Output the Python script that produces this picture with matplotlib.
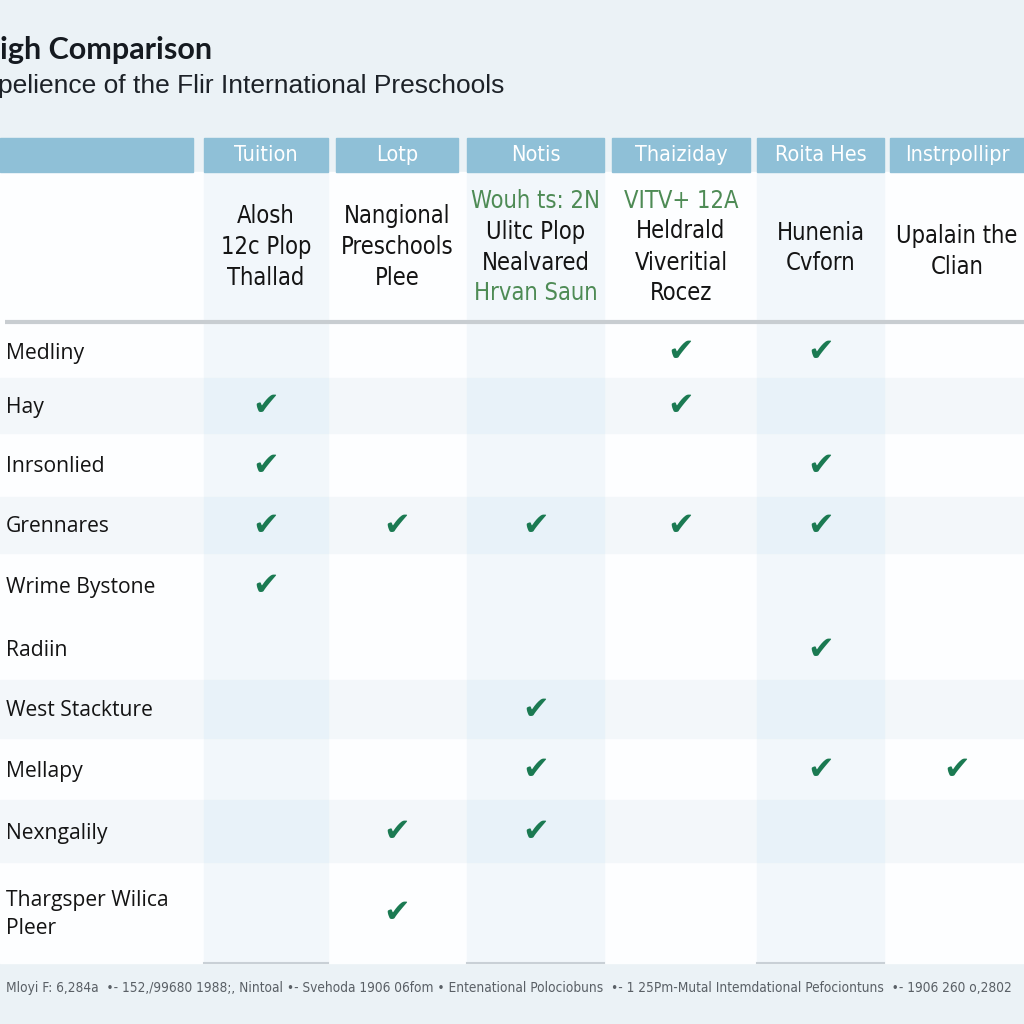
import matplotlib
matplotlib.use("Agg")
import matplotlib.pyplot as plt
from matplotlib.patches import Rectangle
from matplotlib import font_manager as fm

# ---------------- data ----------------
title = "igh Comparison"
subtitle = "pelience of the Flir International Preschools"
columns = ["Tuition", "Lotp", "Notis", "Thaiziday", "Roita Hes", "Instrpollipr"]
subheaders = [
    ["Alosh", "12c Plop", "Thallad"],
    ["Nangional", "Preschools", "Plee"],
    ["Wouh ts: 2N", "Ulitc Plop", "Nealvared", "Hrvan Saun"],
    ["VITV+ 12A", "Heldrald", "Viveritial", "Rocez"],
    ["Hunenia", "Cvforn"],
    ["Upalain the", "Clian"],
]
subheader_green = [
    [False, False, False],
    [False, False, False],
    [True, False, False, True],
    [True, False, False, False],
    [False, False],
    [False, False],
]
rows = ["Medliny", "Hay", "Inrsonlied", "Grennares", "Wrime Bystone",
        "Radiin", "West Stackture", "Mellapy", "Nexngalily",
        "Thargsper Wilica\nPleer"]
checks = [
    [0, 0, 0, 1, 1, 0],
    [1, 0, 0, 1, 0, 0],
    [1, 0, 0, 0, 1, 0],
    [1, 1, 1, 1, 1, 0],
    [1, 0, 0, 0, 0, 0],
    [0, 0, 0, 0, 1, 0],
    [0, 0, 1, 0, 0, 0],
    [0, 0, 1, 0, 1, 1],
    [0, 1, 1, 0, 0, 0],
    [0, 1, 0, 0, 0, 0],
]
footer = ("Mloyi F: 6,284a  \u2022- 152,/99680 1988;, Nintoal \u2022- Svehoda 1906 06fom \u2022 "
          "Entenational Polociobuns  \u2022- 1 25Pm-Mutal Intemdational Pefociontuns  \u2022- 1906 260 o,2802")

# ---------------- layout ----------------
W = H = 1024
col_edges = [(204, 328), (336, 458), (467, 604), (612, 750), (757, 884), (890, 1024)]
shaded_cols = [0, 2, 4]
row_edges = [(325, 378), (378, 433), (433, 497), (497, 553), (553, 618),
             (618, 680), (680, 738), (738, 800), (800, 862), (862, 963)]
shaded_rows = [1, 3, 6, 8]

BG = "#ebf2f6"
HEAD = "#8fc0d7"
GREEN_CHECK = "#1b7a52"
GREEN_TXT = "#4e8b55"

# condensed font, if available
cond_fp = None
for f in fm.fontManager.ttflist:
    if "DejaVuSansCondensed.ttf" in f.fname:
        cond_fp = fm.FontProperties(fname=f.fname)
        break
if cond_fp is None:
    for f in fm.fontManager.ttflist:
        n = f.name.lower()
        fn = f.fname.lower()
        if ("narrow" in n or "condensed" in n or "condensed" in fn) and "bold" not in fn \
                and "oblique" not in fn and "italic" not in fn:
            cond_fp = fm.FontProperties(fname=f.fname)
            break
if cond_fp is None:
    cond_fp = fm.FontProperties(family="DejaVu Sans", stretch="condensed")


def cfp(size):
    fp = cond_fp.copy()
    fp.set_size(size)
    return fp


fig = plt.figure(figsize=(10.24, 10.24), dpi=100, facecolor=BG)
ax = fig.add_axes([0, 0, 1, 1])
ax.set_xlim(0, W)
ax.set_ylim(H, 0)
ax.axis("off")
ax.set_facecolor(BG)

# title
ax.text(0, 50, title, fontsize=22, fontweight="bold", family="Lato",
        color="#151a20", va="center", ha="left")
ax.text(-2, 86, subtitle, fontsize=19, family="Liberation Sans",
        color="#1d2228", va="center", ha="left")

# body background
ax.add_patch(Rectangle((0, 172), W, 963 - 172, color="#fdfeff", zorder=1))
for c in shaded_cols:
    x0, x1 = col_edges[c]
    ax.add_patch(Rectangle((x0, 172), x1 - x0, 963 - 172, color="#f2f7fb", zorder=2))
for r in shaded_rows:
    y0, y1 = row_edges[r]
    ax.add_patch(Rectangle((0, y0), W, y1 - y0, color="#f3f7fa", zorder=2))
    for c in shaded_cols:
        x0, x1 = col_edges[c]
        ax.add_patch(Rectangle((x0, y0), x1 - x0, y1 - y0, color="#e8f2f9", zorder=3))
for c in shaded_cols:
    x0, x1 = col_edges[c]
    ax.plot([x0, x1], [963, 963], color="#c9d0d6", lw=1.5, zorder=4)

# header bar
ax.add_patch(Rectangle((0, 138), 193, 34, color=HEAD, zorder=3))
for c, name in enumerate(columns):
    x0, x1 = col_edges[c]
    ax.add_patch(Rectangle((x0, 138), x1 - x0, 34, color=HEAD, zorder=3))
    ax.text((x0 + x1) / 2, 155, name, fontproperties=cfp(15.5), color="white",
            ha="center", va="center", zorder=5)

# sub-headers
line_h = 31
for c, lines in enumerate(subheaders):
    x0, x1 = col_edges[c]
    cx = (x0 + x1) / 2
    n = len(lines)
    center = 247 if n >= 3 else 248
    top = center - (n - 1) * line_h / 2
    if c == 5:
        top += 3
    for i, (ln, g) in enumerate(zip(lines, subheader_green[c])):
        ax.text(cx, top + i * line_h, ln, fontproperties=cfp(17),
                color=GREEN_TXT if g else "#141414", ha="center", va="center", zorder=5)

# separator line
ax.plot([5, W], [322, 322], color="#c8cdd1", lw=3, zorder=4, solid_capstyle="butt")

# rows
for r, name in enumerate(rows):
    y0, y1 = row_edges[r]
    cy = (y0 + y1) / 2 + 2
    ax.text(6, cy, name, fontsize=15.2, family="Open Sans", color="#141414",
            ha="left", va="center", linespacing=1.45, zorder=5)
    for c, v in enumerate(checks[r]):
        if v:
            x0, x1 = col_edges[c]
            ax.text((x0 + x1) / 2, cy - 1, "\u2714", fontsize=23, family="DejaVu Sans",
                    color=GREEN_CHECK, ha="center", va="center", zorder=5)

# footer
ax.text(6, 988, footer, fontproperties=cfp(9.85), color="#5a6066",
        ha="left", va="center", zorder=5)

fig.savefig("out.png", dpi=100, facecolor=BG)
